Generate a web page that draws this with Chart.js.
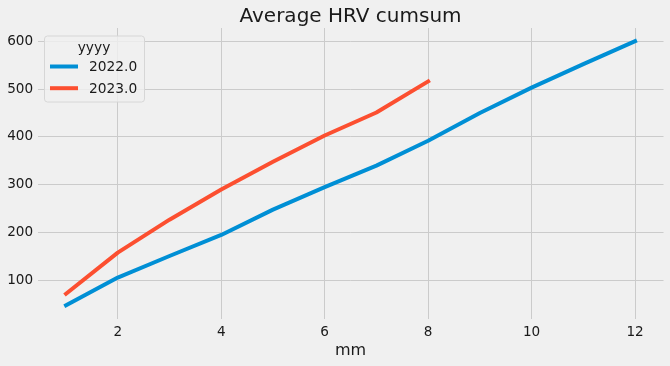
<!DOCTYPE html>
<html>
<head>
<meta charset="utf-8">
<script src="https://cdn.jsdelivr.net/npm/chart.js@4"></script>
<style>
  html, body { margin: 0; padding: 0; background: #f0f0f0; }
  #wrap { width: 670px; height: 366px; }
</style>
</head>
<body>
<div id="wrap"><canvas id="hrvChart" width="670" height="366"></canvas></div>
<script>
// values
const months = [1, 2, 3, 4, 5, 6, 7, 8, 9, 10, 11, 12];
const hrv2022 = [48, 106, 151, 195, 248, 295, 340, 392, 450, 503, 552, 600];
const hrv2023 = [72, 158, 227, 290, 348, 403, 451, 516];
const seriesNames = ['2022.0', '2023.0'];
const xTicks = [2, 4, 6, 8, 10, 12];
const yTicks = [100, 200, 300, 400, 500, 600];

const FONT = 'DejaVu Sans';
const textColor = '#1a1a1a';

function points(values) {
    return values.map((v, i) => ({ x: months[i], y: v }));
}

// title, x label and the legend box are drawn by hand (matplotlib style)
const extrasPlugin = {
    id: 'extras',
    afterDraw(chart) {
        const ctx = chart.ctx;
        const area = chart.chartArea;
        const cx = (area.left + area.right) / 2;
        ctx.save();
        ctx.fillStyle = textColor;
        ctx.textAlign = 'center';
        ctx.textBaseline = 'alphabetic';
        ctx.font = '20px "' + FONT + '"';
        ctx.fillText('Average HRV cumsum', cx, 22);
        ctx.font = '16px "' + FONT + '"';
        ctx.fillText('mm', cx, 355);

        // legend
        const bx = 44.5, by = 36, bw = 100, bh = 66;
        ctx.beginPath();
        ctx.roundRect(bx, by, bw, bh, 3);
        ctx.fillStyle = 'rgba(240,240,240,0.8)';
        ctx.fill();
        ctx.strokeStyle = '#d6d6d6';
        ctx.lineWidth = 1;
        ctx.stroke();

        ctx.font = '13.8px "' + FONT + '"';
        ctx.fillStyle = textColor;
        ctx.textAlign = 'center';
        ctx.textBaseline = 'middle';
        ctx.fillText('yyyy', 94, 48);

        chart.data.datasets.forEach((ds, i) => {
            const y = 66.5 + i * 21.7;
            ctx.strokeStyle = ds.borderColor;
            ctx.lineWidth = 4;
            ctx.beginPath();
            ctx.moveTo(50, y);
            ctx.lineTo(78, y);
            ctx.stroke();
            ctx.fillStyle = textColor;
            ctx.textAlign = 'left';
            ctx.fillText(ds.label, 89, y + 1);
        });
        ctx.restore();
    }
};

const ctx = document.getElementById('hrvChart').getContext('2d');
const myChart = new Chart(ctx, {
    type: 'line',
    data: {
        datasets: [
            { label: seriesNames[0], data: points(hrv2022), borderColor: '#008fd5' },
            { label: seriesNames[1], data: points(hrv2023), borderColor: '#fc4f30' }
        ]
    },
    options: {
        responsive: false,
        animation: false,
        parsing: false,
        layout: { padding: { top: 28, right: 6.5, left: 0, bottom: 0 } },
        elements: {
            line: { borderWidth: 4, tension: 0, borderCapStyle: 'square', borderJoinStyle: 'round', fill: false },
            point: { radius: 0, hoverRadius: 0 }
        },
        plugins: {
            legend: { display: false },
            title: { display: false },
            tooltip: { enabled: false }
        },
        scales: {
            x: {
                type: 'linear',
                min: 0.45,
                max: 12.55,
                afterBuildTicks: scale => { scale.ticks = xTicks.map(v => ({ value: v })); },
                afterFit: scale => { scale.height = 47.5; },
                grid: { color: '#cbcbcb', lineWidth: 1, drawTicks: false },
                border: { display: false },
                ticks: {
                    color: textColor,
                    font: { family: FONT, size: 13.6 },
                    padding: 6,
                    maxRotation: 0,
                    autoSkip: false
                }
            },
            y: {
                type: 'linear',
                min: 20.4,
                max: 627.6,
                afterBuildTicks: scale => { scale.ticks = yTicks.map(v => ({ value: v })); },
                afterFit: scale => { scale.width = 37.6; },
                grid: { color: '#cbcbcb', lineWidth: 1, drawTicks: false },
                border: { display: false },
                ticks: {
                    color: textColor,
                    font: { family: FONT, size: 13.6 },
                    padding: 4.5,
                    autoSkip: false
                }
            }
        }
    },
    plugins: [extrasPlugin]
});
</script>
</body>
</html>
